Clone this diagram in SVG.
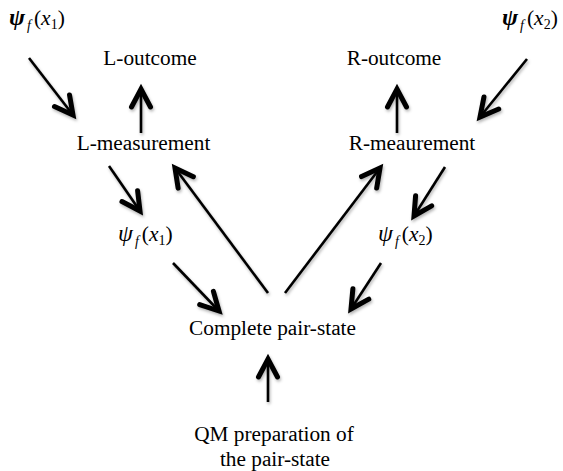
<svg xmlns="http://www.w3.org/2000/svg" width="563" height="471" viewBox="0 0 563 471" font-family="'Liberation Serif', 'Times New Roman', Times, serif">
<style>
text{font-family:'Liberation Serif','Times New Roman',Times,serif;font-size:21.3px;fill:#000}
.lbl{text-anchor:middle}
.psi{font-size:21.5px}
.it{font-style:italic}
.g{font-size:24px;font-style:italic}
.bi{font-size:24px;font-style:italic;font-weight:bold}
.sub{font-size:14px;font-style:italic}
.subn{font-size:14px}
.shaft{stroke:#000;stroke-width:2.6;fill:none;marker-end:url(#head)}
</style>
<defs>
<filter id="sh" filterUnits="userSpaceOnUse" x="0" y="0" width="563" height="471">
<feDropShadow dx="1" dy="2" stdDeviation="1.5" flood-color="#000" flood-opacity="0.3"/>
</filter>
<marker id="head" markerUnits="userSpaceOnUse" orient="auto" refX="0" refY="0" markerWidth="40" markerHeight="40" viewBox="-30 -20 40 40" overflow="visible">
<path d="M-18,-9.5 L0,0 L-18,9.5" fill="none" stroke="#000" stroke-width="5" stroke-linecap="round" stroke-linejoin="miter"/>
</marker>
</defs>
<g id="connectors" filter="url(#sh)">
<line class="shaft" x1="29" y1="58" x2="73" y2="115"/>
<line class="shaft" x1="527" y1="59" x2="480" y2="117"/>
<line class="shaft" x1="141" y1="133" x2="141" y2="89"/>
<line class="shaft" x1="397" y1="133" x2="397" y2="89"/>
<line class="shaft" x1="109" y1="166" x2="140" y2="211"/>
<line class="shaft" x1="445" y1="167" x2="414" y2="216"/>
<line class="shaft" x1="268" y1="293" x2="175" y2="168"/>
<line class="shaft" x1="285" y1="293" x2="380" y2="168"/>
<line class="shaft" x1="173" y1="263" x2="219" y2="311"/>
<line class="shaft" x1="381" y1="263" x2="351" y2="309"/>
<line class="shaft" x1="268" y1="402" x2="268" y2="359"/>
</g>
<g id="psi-top-left"><text class="psi" x="9" y="25"><tspan class="bi">ψ</tspan><tspan class="sub" dx="2" dy="5">f</tspan><tspan dx="3" dy="-5">(</tspan><tspan class="it">x</tspan><tspan class="subn" dy="4">1</tspan><tspan dy="-4">)</tspan></text></g>
<g id="psi-top-right"><text class="psi" x="502" y="25"><tspan class="bi">ψ</tspan><tspan class="sub" dx="2" dy="5">f</tspan><tspan dx="3" dy="-5">(</tspan><tspan class="it">x</tspan><tspan class="subn" dy="4">2</tspan><tspan dy="-4">)</tspan></text></g>
<g id="l-outcome"><text class="lbl" x="150" y="65">L-outcome</text></g>
<g id="r-outcome"><text class="lbl" x="394" y="65">R-outcome</text></g>
<g id="l-measurement"><text class="lbl" x="143.5" y="150">L-measurement</text></g>
<g id="r-meaurement"><text class="lbl" x="412" y="150">R-meaurement</text></g>
<g id="psi-mid-left"><text class="psi" x="118" y="241"><tspan class="g">ψ</tspan><tspan class="sub" dx="2" dy="5">f</tspan><tspan dx="3" dy="-5">(</tspan><tspan class="it">x</tspan><tspan class="subn" dy="4">1</tspan><tspan dy="-4">)</tspan></text></g>
<g id="psi-mid-right"><text class="psi" x="378" y="241"><tspan class="g">ψ</tspan><tspan class="sub" dx="2" dy="5">f</tspan><tspan dx="3" dy="-5">(</tspan><tspan class="it">x</tspan><tspan class="subn" dy="4">2</tspan><tspan dy="-4">)</tspan></text></g>
<g id="complete-pair-state"><text class="lbl" x="272.5" y="335">Complete pair-state</text></g>
<g id="qm-preparation"><text class="lbl" x="274" y="441">QM preparation of</text><text class="lbl" x="275" y="466">the pair-state</text></g>
</svg>
